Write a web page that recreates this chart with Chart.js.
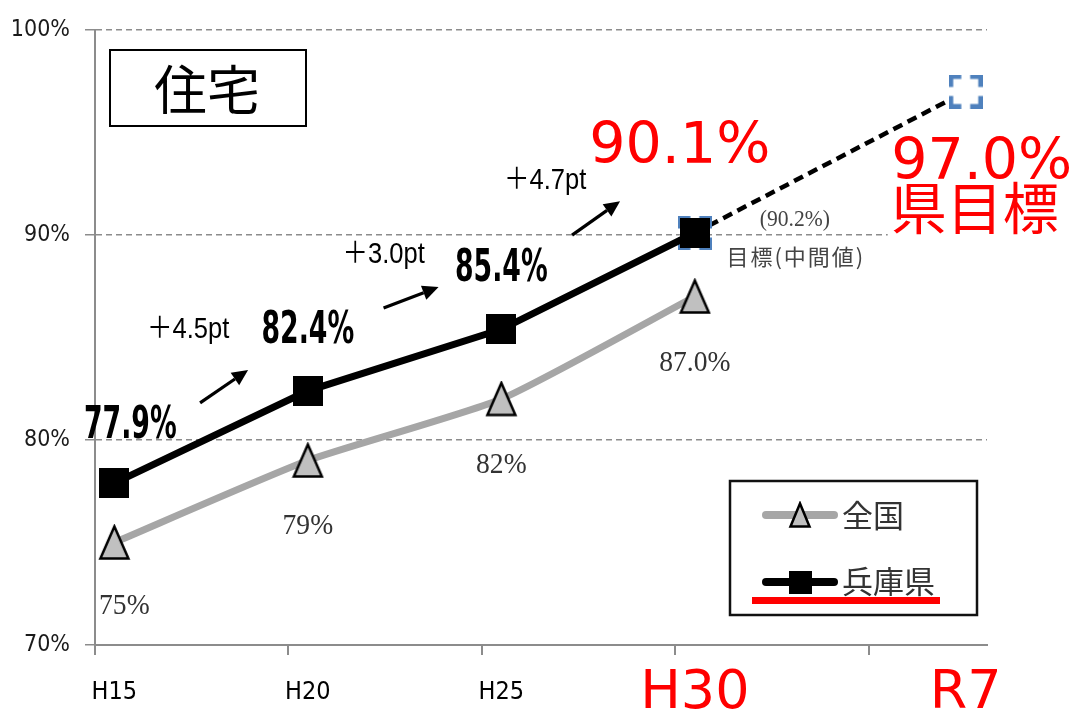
<!DOCTYPE html>
<html><head><meta charset="utf-8">
<script src="https://cdn.jsdelivr.net/npm/chart.js@4.4.1/dist/chart.umd.min.js"></script>
<style>html,body{margin:0;padding:0;background:#fff;}canvas{display:block;}</style>
</head><body>
<canvas id="c" width="1075" height="712"></canvas>
<script>
// ---- data ----
const categories = ['H15', 'H20', 'H25', 'H30', 'R7'];
const years = [2003, 2008, 2013, 2018, 2025];
const zenkoku = [75, 79, 82, 87];
const hyogo = [77.9, 82.4, 85.4, 90.1];
const hyogoGoal = 97.0;
const seriesNames = ['全国', '兵庫県', '県目標'];
const yTicks = [70, 80, 90, 100];
const xMarkTicks = [2002.5, 2007.5, 2012.5, 2017.5, 2022.5];
const zenkokuLabels = ['75%', '79%', '82%', '87.0%'];
const hyogoLabels = ['77.9%', '82.4%', '85.4%', '90.1%'];
const gainLabels = ['＋4.5pt', '＋3.0pt', '＋4.7pt'];
const goalLabels = ['97.0%', '県目標'];
const midTargetLabels = ['(90.2%)', '目標(中間値)'];
const titleText = '住宅';

// ---- styles ----
const NARROW = "'Liberation Sans Narrow', 'DejaVu Sans Condensed', 'Liberation Sans', sans-serif";
const SERIF = "'Liberation Serif', 'DejaVu Serif', serif";
const CJK = "'Noto Sans CJK JP', 'Noto Sans', sans-serif";
const BIG = "'DejaVu Sans', 'Noto Sans', sans-serif";
const RED = '#ff0000';

function makeTriangle(w, h, lw) {
  const c = document.createElement('canvas');
  c.width = w + lw * 2; c.height = h + lw * 2;
  const g = c.getContext('2d');
  g.beginPath(); g.moveTo(c.width / 2, lw); g.lineTo(c.width - lw, c.height - lw); g.lineTo(lw, c.height - lw); g.closePath();
  g.fillStyle = '#c0c0c0'; g.fill(); g.lineWidth = lw; g.strokeStyle = '#000'; g.lineJoin = 'miter'; g.stroke();
  return c;
}
function makeSquare(s) {
  const c = document.createElement('canvas');
  c.width = s; c.height = s;
  const g = c.getContext('2d'); g.fillStyle = '#000'; g.fillRect(0, 0, s, s);
  return c;
}
function makeDashedSquare(s, lw) {
  const c = document.createElement('canvas');
  c.width = s; c.height = s;
  const g = c.getContext('2d');
  const side = s - lw;
  g.fillStyle = '#fff'; g.fillRect(lw / 2, lw / 2, side, side);
  const d = side * 0.7, gap = side - d;
  g.setLineDash([d, gap]); g.lineDashOffset = d / 2;
  g.strokeStyle = '#4f81bd'; g.lineWidth = lw;
  g.strokeRect(lw / 2, lw / 2, side, side);
  return c;
}
const triImg = makeTriangle(28, 32, 2.5);
const sqImg = makeSquare(30);
const blueImg = makeDashedSquare(34, 4.5);
const triSmall = makeTriangle(19, 23, 2.5);
const sqSmall = makeSquare(23);

// annotation layout (pixel offsets from the related data points)
const layoutCfg = {
  hyogoLabelOffsets: [[16, -45], [0, -48], [0, -48], [-15, -70]],
  zenkokuLabelOffsets: [[10, 71], [0, 73], [0, 74], [0, 74]],
  gainTextOffsets: [[-23, -99], [-21, -97], [-53, -92]],
  arrowOffsets: [[-11, -34, 37, -67], [-21, -52, 34, -73], [-26, -46, 22, -80]]
};

function arrow(ctx, x1, y1, x2, y2) {
  const a = Math.atan2(y2 - y1, x2 - x1), hl = 16, hw = 7.5;
  const bx = x2 - hl * Math.cos(a), by = y2 - hl * Math.sin(a);
  ctx.beginPath(); ctx.moveTo(x1, y1); ctx.lineTo(bx, by);
  ctx.lineWidth = 3.2; ctx.strokeStyle = '#000'; ctx.lineCap = 'butt'; ctx.stroke();
  ctx.beginPath(); ctx.moveTo(x2, y2);
  ctx.lineTo(bx - hw * Math.sin(a), by + hw * Math.cos(a));
  ctx.lineTo(bx + hw * Math.sin(a), by - hw * Math.cos(a));
  ctx.closePath(); ctx.fillStyle = '#000'; ctx.fill();
}
function text(ctx, t, x, y, font, color, align, base, spacing, sx) {
  ctx.save();
  ctx.font = font; ctx.fillStyle = color; ctx.textAlign = align || 'center';
  ctx.textBaseline = base || 'alphabetic';
  ctx.letterSpacing = spacing || '0px';
  ctx.translate(x, y);
  if (sx) ctx.scale(sx, 1);
  ctx.fillText(t, 0, 0);
  ctx.restore();
}

const overlay = {
  id: 'overlay',
  beforeDatasetsDraw(chart) {
    const ctx = chart.ctx, X = v => chart.scales.x.getPixelForValue(v), Y = v => chart.scales.y.getPixelForValue(v);
    const gx = X(years[4]), gy = Y(hyogoGoal);
    ctx.save(); ctx.fillStyle = '#fff';
    ctx.fillRect(gx - 78, gy + 32, 190, 118);
    ctx.restore();
  },
  afterDatasetsDraw(chart) {
    const ctx = chart.ctx, ca = chart.chartArea;
    const X = v => chart.scales.x.getPixelForValue(v), Y = v => chart.scales.y.getPixelForValue(v);
    ctx.save();
    // title box
    ctx.fillStyle = '#fff'; ctx.fillRect(ca.left + 15, ca.top + 20, 196, 76);
    ctx.strokeStyle = '#000'; ctx.lineWidth = 2; ctx.strokeRect(ca.left + 15, ca.top + 20, 196, 76);
    text(ctx, titleText, ca.left + 112, ca.top + 60, '53px ' + CJK, '#000', 'center', 'middle');

    // hyogo value labels
    hyogo.forEach((v, i) => {
      const [dx, dy] = layoutCfg.hyogoLabelOffsets[i];
      const x = X(years[i]) + dx, y = Y(v) + dy;
      if (i < 3) text(ctx, hyogoLabels[i], x, y, 'bold 45px ' + NARROW, '#000', 'center', 'alphabetic', '0px', 0.66);
      else text(ctx, hyogoLabels[i], x, y, '57px ' + BIG, RED);
    });
    // zenkoku value labels
    zenkoku.forEach((v, i) => {
      const [dx, dy] = layoutCfg.zenkokuLabelOffsets[i];
      text(ctx, zenkokuLabels[i], X(years[i]) + dx, Y(v) + dy, '30px ' + SERIF, '#333', 'center', 'alphabetic', '0px', 0.92);
    });
    // gains + arrows
    for (let i = 0; i < 3; i++) {
      const mx = (X(years[i]) + X(years[i + 1])) / 2, my = (Y(hyogo[i]) + Y(hyogo[i + 1])) / 2;
      const [tx, ty] = layoutCfg.gainTextOffsets[i];
      text(ctx, gainLabels[i], mx + tx, my + ty, "29px 'Liberation Sans', " + CJK, '#000', 'center', 'alphabetic', '0px', 0.88);
      const a = layoutCfg.arrowOffsets[i];
      arrow(ctx, mx + a[0], my + a[1], mx + a[2], my + a[3]);
    }
    // mid target
    const hx = X(years[3]), hy = Y(hyogo[3]);
    text(ctx, midTargetLabels[0], hx + 100, hy - 7, '24px ' + SERIF, '#444', 'center', 'alphabetic', '0px', 0.9);
    text(ctx, midTargetLabels[1], hx + 101, hy + 24, '22px ' + CJK, '#444', 'center', 'middle', '2px');
    // goal labels
    const gx = X(years[4]), gy = Y(hyogoGoal);
    text(ctx, goalLabels[0], gx + 16, gy + 87, '57px ' + BIG, RED);
    text(ctx, goalLabels[1], gx + 9, gy + 116, '56px ' + CJK, RED, 'center', 'middle');

    // legend
    const lx = ca.right - 257, ly = ca.bottom - 164;
    ctx.fillStyle = '#fff'; ctx.fillRect(lx, ly, 247, 134);
    ctx.strokeStyle = '#111'; ctx.lineWidth = 2.5; ctx.strokeRect(lx, ly, 247, 134);
    ctx.lineCap = 'round';
    ctx.strokeStyle = '#a6a6a6'; ctx.lineWidth = 8;
    ctx.beginPath(); ctx.moveTo(lx + 36, ly + 34); ctx.lineTo(lx + 104, ly + 34); ctx.stroke();
    ctx.drawImage(triSmall, lx + 70 - triSmall.width / 2, ly + 34 - triSmall.height / 2);
    ctx.strokeStyle = '#000'; ctx.lineWidth = 8;
    ctx.beginPath(); ctx.moveTo(lx + 36, ly + 101); ctx.lineTo(lx + 104, ly + 101); ctx.stroke();
    ctx.drawImage(sqSmall, lx + 70 - sqSmall.width / 2, ly + 101 - sqSmall.height / 2);
    text(ctx, seriesNames[0], lx + 112, ly + 34, '31px ' + CJK, '#333', 'left', 'middle');
    text(ctx, seriesNames[1], lx + 112, ly + 100, '31px ' + CJK, '#333', 'left', 'middle');
    ctx.fillStyle = RED; ctx.fillRect(lx + 22, ly + 116, 188, 7);
    ctx.restore();
  }
};

const X_MIN = 2002.5, X_MAX = 2025.55;
new Chart(document.getElementById('c'), {
  type: 'line',
  data: {
    datasets: [
      { label: seriesNames[1], data: hyogo.map((v, i) => ({ x: years[i], y: v })),
        borderColor: '#000', backgroundColor: '#000', borderWidth: 7, pointStyle: sqImg, pointRadius: 12, order: 1, tension: 0 },
      { label: seriesNames[0], data: zenkoku.map((v, i) => ({ x: years[i], y: v })),
        borderColor: '#a6a6a6', backgroundColor: '#c0c0c0', borderWidth: 7, pointStyle: triImg, pointRadius: 12, order: 2, tension: 0.18 },
      { label: seriesNames[2], data: [{ x: years[3], y: hyogo[3] }, { x: years[4], y: hyogoGoal }],
        borderColor: '#000', borderWidth: 4.5, borderDash: [10, 6], pointStyle: blueImg, pointRadius: 12, order: 3 }
    ]
  },
  options: {
    responsive: false, animation: false, devicePixelRatio: 1,
    layout: { padding: { top: 30, right: 88, bottom: 0, left: 0 } },
    plugins: { legend: { display: false }, tooltip: { enabled: false } },
    scales: {
      y: {
        min: 70, max: 100,
        afterBuildTicks: s => { s.ticks = yTicks.map(v => ({ value: v })); },
        afterFit: s => { s.width = 95; },
        grid: {
          color: c => (c.tick && c.tick.value === 70) ? 'rgba(0,0,0,0)' : '#8c8c8c',
          lineWidth: 1.5, tickLength: 10, tickColor: '#8c8c8c'
        },
        border: { color: '#8c8c8c', width: 2, dash: [6, 4] },
        ticks: { callback: v => v + '%', padding: 15, color: '#1a1a1a', font: { family: NARROW, size: 23 } }
      },
      xMarks: {
        type: 'linear', position: 'bottom', weight: 0, min: X_MIN, max: X_MAX,
        afterBuildTicks: s => { s.ticks = xMarkTicks.map(v => ({ value: v })); },
        afterFit: s => { s.height = 10; },
        grid: { drawOnChartArea: false, drawTicks: true, tickLength: 10, color: '#8c8c8c', lineWidth: 2 },
        border: { color: '#8c8c8c', width: 2 },
        ticks: { display: false }
      },
      x: {
        type: 'linear', position: 'bottom', weight: 1, min: X_MIN, max: X_MAX,
        afterBuildTicks: s => { s.ticks = years.map(v => ({ value: v })); },
        afterFit: s => { s.height = 57; },
        grid: { display: false }, border: { display: false },
        ticks: {
          autoSkip: false, maxRotation: 0, padding: 14,
          callback: (v, i) => categories[i],
          color: c => c.index >= 3 ? RED : '#000',
          font: c => c.index >= 3 ? { family: BIG, size: 54, lineHeight: 0.62 } : { family: NARROW, size: 25 }
        }
      }
    }
  },
  plugins: [overlay]
});
</script>
</body></html>
